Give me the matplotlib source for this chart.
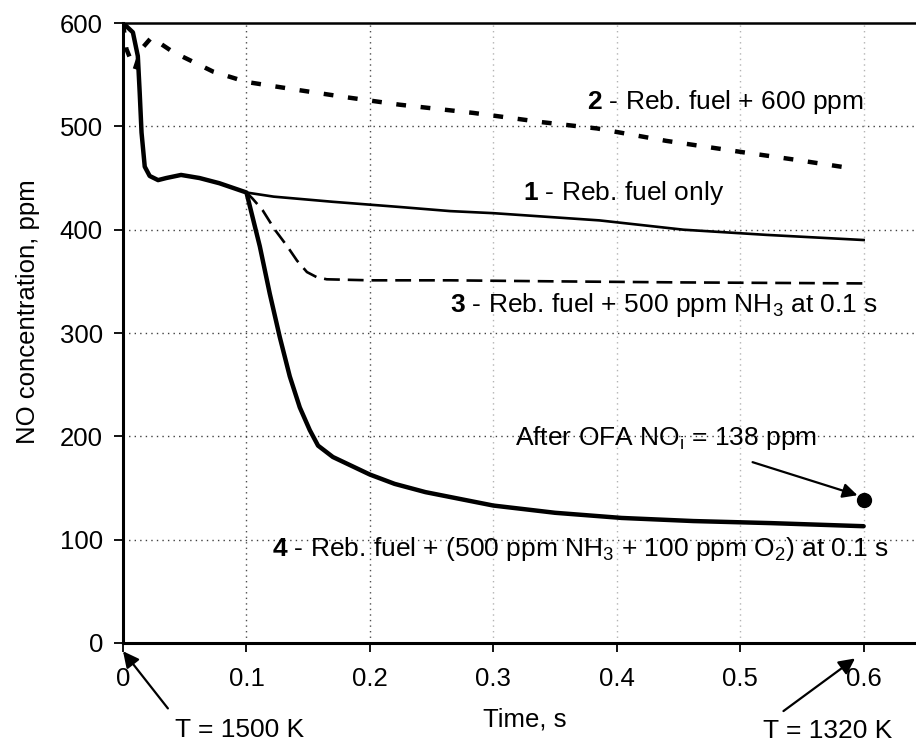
import matplotlib
matplotlib.use('Agg')
import matplotlib.pyplot as plt

plt.rcParams['font.family'] = ['Liberation Sans', 'DejaVu Sans']
plt.rcParams['mathtext.fontset'] = 'custom'
plt.rcParams['mathtext.rm'] = 'Liberation Sans'
plt.rcParams['mathtext.it'] = 'Liberation Sans:italic'
plt.rcParams['mathtext.bf'] = 'Liberation Sans:bold'

# curve 1 - reburning fuel only
t1 = [0, 0.008, 0.012, 0.0135, 0.015, 0.0176, 0.0216, 0.0284, 0.035, 0.047, 0.062, 0.078, 0.1,
      0.122, 0.17, 0.224, 0.265, 0.3, 0.386, 0.454, 0.521, 0.6]
no1 = [600, 591, 568, 533, 494, 461, 452, 448, 450, 453, 450, 445, 436,
       432, 427, 422, 418, 416, 409, 400, 395, 390]

# curve 2 - reburning fuel + 600 ppm
t2 = [0, 0.0027, 0.0095, 0.015, 0.023, 0.0405, 0.073, 0.1, 0.143, 0.182, 0.224, 0.284,
      0.34, 0.384, 0.44, 0.502, 0.543, 0.587]
no2 = [600, 575, 555, 575, 586, 572, 553, 543, 535, 528, 521, 513,
       504, 498, 486, 475, 468, 460]

# curve 3 - NH3 injected at 0.1 s
t3 = [0.1, 0.105, 0.113, 0.123, 0.133, 0.141, 0.149, 0.157, 0.165, 0.2, 0.265, 0.35, 0.45, 0.6]
no3 = [436, 430, 419, 400, 384, 370, 359, 354, 352, 351, 351, 350, 349, 348]

# curve 4 - NH3 + O2 injected at 0.1 s
t4 = [0, 0.008, 0.012, 0.0135, 0.015, 0.0176, 0.0216, 0.0284, 0.035, 0.047, 0.062, 0.078, 0.1,
      0.1108, 0.1189, 0.127, 0.1351, 0.1432, 0.1513, 0.158, 0.17, 0.2, 0.22, 0.245,
      0.3, 0.35, 0.404, 0.462, 0.525, 0.6]
no4 = [600, 591, 568, 533, 494, 461, 452, 448, 450, 453, 450, 445, 436,
       384, 338, 296, 258, 228, 206, 191, 180, 163, 154, 146,
       133, 126, 121, 118, 116, 113]

ofa_t = 0.6
ofa_no = 138

xticks = [0, 0.1, 0.2, 0.3, 0.4, 0.5, 0.6]
xticklabels = ['0', '0.1', '0.2', '0.3', '0.4', '0.5', '0.6']
yticks = [0, 100, 200, 300, 400, 500, 600]

fig = plt.figure(figsize=(9.16, 7.44), dpi=100)
ax = fig.add_axes([0.1343, 0.1358, 1 - 0.1343, 0.969 - 0.1358])

# grid
for y in yticks[1:-1]:
    ax.axhline(y, color='0.25', lw=1.0, ls=(0, (1, 3)), zorder=0)
for x in xticks[1:]:
    c = '0.3' if x < 0.25 else '0.7'
    ax.axvline(x, color=c, lw=1.0, ls=(0, (1, 3)), zorder=0)

ax.plot(t1, no1, color='black', lw=1.9, solid_joinstyle='round')
ax.plot(t2, no2, color='black', lw=3.2, dashes=(2.2, 3.3))
ax.plot(t3, no3, color='black', lw=1.9, dashes=(6, 3))
ax.plot(t4, no4, color='black', lw=3.2, solid_joinstyle='round', solid_capstyle='round')
ax.plot([ofa_t], [ofa_no], 'o', color='black', ms=10)

ax.set_xlim(0, 0.6424)
ax.set_ylim(0, 600)
ax.set_xticks(xticks)
ax.set_xticklabels(xticklabels)
ax.set_yticks(yticks)
ax.tick_params(axis='both', labelsize=18.5, direction='out', length=6.5, width=1.3)
ax.tick_params(axis='x', pad=11)
ax.tick_params(axis='y', pad=8)

ax.spines['right'].set_visible(False)
ax.spines['left'].set_linewidth(2.2)
ax.spines['bottom'].set_linewidth(2.2)
ax.spines['top'].set_linewidth(1.8)

ax.set_xlabel('Time, s', fontsize=18.5, va='center')
ax.xaxis.set_label_coords(0.506, -0.124)
ax.set_ylabel('NO concentration, ppm', fontsize=18.5, va='center', ha='center')
ax.yaxis.set_label_coords(-0.12, 0.534)

fs = 19
ax.text(0.6, 524, r'$\mathbf{2}$ - Reb. fuel + 600 ppm', fontsize=fs, ha='right', va='center')
ax.text(0.324, 436, r'$\mathbf{1}$ - Reb. fuel only', fontsize=fs, ha='left', va='center')
ax.text(0.265, 327, r'$\mathbf{3}$ - Reb. fuel + 500 ppm NH$_3$ at 0.1 s',
        fontsize=fs, ha='left', va='center')
ax.text(0.1207, 91, r'$\mathbf{4}$ - Reb. fuel + (500 ppm NH$_3$ + 100 ppm O$_2$) at 0.1 s',
        fontsize=fs, ha='left', va='center')

ax.text(0.3175, 198, r'After OFA NO$_\mathrm{i}$ = 138 ppm', fontsize=fs, ha='left', va='center')
ax.annotate('', xy=(0.595, 143), xytext=(0.51, 175),
            arrowprops=dict(arrowstyle='-|>', color='black', lw=1.6, mutation_scale=22,
                            shrinkA=0, shrinkB=0))

ax.annotate('T = 1500 K', xy=(0.0, -8), xytext=(0.0946, -84),
            fontsize=fs, ha='center', va='center', annotation_clip=False,
            arrowprops=dict(arrowstyle='-|>', color='black', lw=1.6, mutation_scale=24,
                            relpos=(0.0, 1.0), shrinkA=6, shrinkB=0))
ax.annotate('T = 1320 K', xy=(0.593, -15), xytext=(0.5705, -85),
            fontsize=fs, ha='center', va='center', annotation_clip=False,
            arrowprops=dict(arrowstyle='-|>', color='black', lw=1.6, mutation_scale=24,
                            relpos=(0.08, 1.0), shrinkA=6, shrinkB=0))

fig.savefig('out.png', dpi=100)
